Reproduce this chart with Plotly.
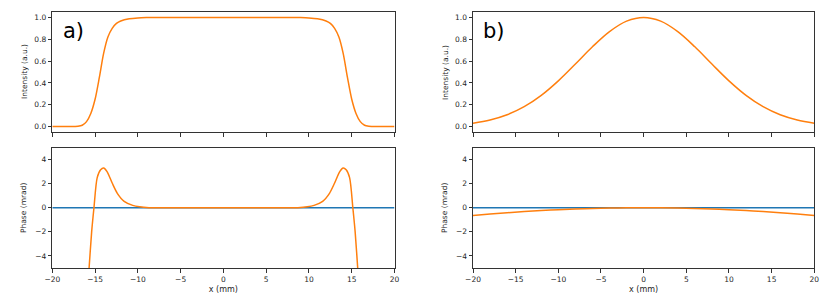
import plotly.graph_objects as go

# ---- data ----
# a) flat-top beam intensity
x_a_int = [-20, -18, -17, -16.5, -16, -15.5, -15, -14.5, -14, -13.5, -13, -12.5, -12, -11, -10, -9, -8, 0,
           8, 9, 10, 11, 12, 12.5, 13, 13.5, 14, 14.5, 15, 15.5, 16, 16.5, 17, 18, 20]
y_a_int = [0, 0, 0.003, 0.012, 0.045, 0.12, 0.25, 0.45, 0.67, 0.82, 0.90, 0.945, 0.968, 0.988, 0.996, 0.999, 1.0, 1.0,
           1.0, 0.999, 0.996, 0.988, 0.968, 0.945, 0.90, 0.82, 0.67, 0.45, 0.25, 0.12, 0.045, 0.012, 0.003, 0, 0]
# a) phase
x_a_ph = [-16.2, -15.7, -15.4, -15.13, -14.75, -14.35, -14.0, -13.6, -13.0, -12.4, -11.6, -10.6, -9.8, -8.7, -7, 0,
          7, 8.7, 9.8, 10.6, 11.6, 12.4, 13.0, 13.6, 14.0, 14.35, 14.75, 15.13, 15.4, 15.7, 16.2]
y_a_ph = [-10, -5, -2, 0, 2.5, 3.15, 3.3, 3.0, 2.05, 1.2, 0.53, 0.2, 0.08, 0.01, 0, 0,
          0, 0.01, 0.08, 0.2, 0.53, 1.2, 2.05, 3.0, 3.3, 3.15, 2.5, 0, -2, -5, -10]
# b) Gaussian beam intensity
x_b = [-20, -18, -16, -14, -12, -10, -8, -6, -4, -2, 0, 2, 4, 6, 8, 10, 12, 14, 16, 18, 20]
y_b_int = [0.031, 0.06, 0.108, 0.182, 0.286, 0.419, 0.573, 0.731, 0.87, 0.966, 1.0,
           0.966, 0.87, 0.731, 0.573, 0.419, 0.286, 0.182, 0.108, 0.06, 0.031]
# b) phase
y_b_ph = [-0.64, -0.52, -0.41, -0.31, -0.23, -0.16, -0.10, -0.058, -0.026, -0.006, 0,
          -0.006, -0.026, -0.058, -0.10, -0.16, -0.23, -0.31, -0.41, -0.52, -0.64]
# reference (flat) phase
x_ref = [-20, 20]
y_ref = [0, 0]

x_ticks = [-20, -15, -10, -5, 0, 5, 10, 15, 20]
int_ticks = [0.0, 0.2, 0.4, 0.6, 0.8, 1.0]
ph_ticks = [-4, -2, 0, 2, 4]

ORANGE = "#ff7f0e"
BLUE = "#1f77b4"
FONT = "DejaVu Sans"
OFF = 8                      # page body margin
W, H = 830 - OFF, 306 - OFF

fig = go.Figure()
fig.add_trace(go.Scatter(x=x_a_int, y=y_a_int, mode="lines", line=dict(color=ORANGE, width=1.5, shape="spline", smoothing=0.8), xaxis="x", yaxis="y"))
fig.add_trace(go.Scatter(x=x_ref, y=y_ref, mode="lines", line=dict(color=BLUE, width=1.5), xaxis="x2", yaxis="y2"))
fig.add_trace(go.Scatter(x=x_a_ph, y=y_a_ph, mode="lines", line=dict(color=ORANGE, width=1.5, shape="spline", smoothing=0.8), xaxis="x2", yaxis="y2"))
fig.add_trace(go.Scatter(x=x_b, y=y_b_int, mode="lines", line=dict(color=ORANGE, width=1.5, shape="spline"), xaxis="x3", yaxis="y3"))
fig.add_trace(go.Scatter(x=x_ref, y=y_ref, mode="lines", line=dict(color=BLUE, width=1.5), xaxis="x4", yaxis="y4"))
fig.add_trace(go.Scatter(x=x_b, y=y_b_ph, mode="lines", line=dict(color=ORANGE, width=1.5, shape="spline"), xaxis="x4", yaxis="y4"))

def px_x(p):
    return (p - OFF) / W

def px_y(p):
    return (H - (p - OFF)) / H

left_dom = [px_x(52.3), px_x(394.5)]
right_dom = [px_x(473), px_x(814.3)]
top_dom = [px_y(132), px_y(12)]
bot_dom = [px_y(268), px_y(147.5)]

common = dict(showgrid=False, zeroline=False, showline=True, mirror=True, linecolor="#333333", linewidth=1,
              ticks="outside", ticklen=3.5, tickwidth=1, tickcolor="#333333", automargin=False,
              tickfont=dict(family=FONT, size=7.5, color="#262626"))

xcommon = dict(common, range=[-20, 20], tickvals=x_ticks)
int_ax = dict(common, range=[-0.05, 1.05], tickvals=int_ticks, tickformat=".1f")
ph_ax = dict(common, range=[-5, 5], tickvals=ph_ticks)
xtitle = dict(text="x (mm)", font=dict(family=FONT, size=8, color="#262626"), standoff=3)

fig.update_layout(
    width=W, height=H, margin=dict(l=0, r=0, t=0, b=0, autoexpand=False),
    paper_bgcolor="white", plot_bgcolor="white", showlegend=False,
    xaxis=dict(xcommon, domain=left_dom, anchor="y", showticklabels=False),
    yaxis=dict(int_ax, domain=top_dom, anchor="x"),
    xaxis2=dict(xcommon, domain=left_dom, anchor="y2", title=xtitle),
    yaxis2=dict(ph_ax, domain=bot_dom, anchor="x2"),
    xaxis3=dict(xcommon, domain=right_dom, anchor="y3", showticklabels=False),
    yaxis3=dict(int_ax, domain=top_dom, anchor="x3"),
    xaxis4=dict(xcommon, domain=right_dom, anchor="y4", title=xtitle),
    yaxis4=dict(ph_ax, domain=bot_dom, anchor="x4"),
)

ylab_font = dict(family=FONT, size=7.5, color="#262626")
for xp, yp, txt in [(24, 72, "Intensity (a.u.)"), (24, 208, "Phase (mrad)"),
                    (445, 72, "Intensity (a.u.)"), (445, 208, "Phase (mrad)")]:
    fig.add_annotation(x=px_x(xp), y=px_y(yp), xref="paper", yref="paper", text=txt, textangle=-90,
                       showarrow=False, font=ylab_font, xanchor="center", yanchor="middle")

for xp, txt in [(61, "a)"), (481, "b)")]:
    fig.add_annotation(x=px_x(xp), y=px_y(31), xref="paper", yref="paper", text=txt, showarrow=False,
                       font=dict(family=FONT, size=21, color="black"), xanchor="left", yanchor="middle")

fig.write_html("out.html")
